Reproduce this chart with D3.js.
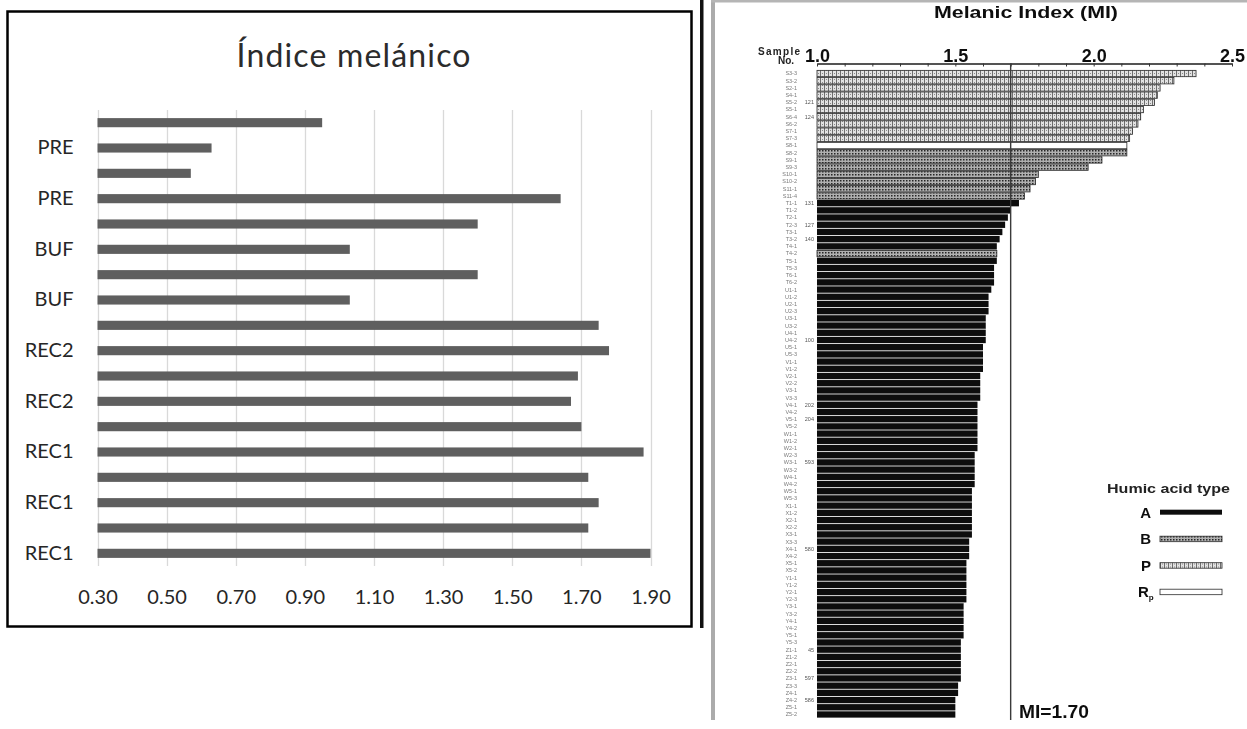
<!DOCTYPE html>
<html>
<head>
<meta charset="utf-8">
<script src="https://cdn.jsdelivr.net/npm/d3@7"></script>
<style>
html, body { margin: 0; padding: 0; background: #fff; }
svg { display: block; }
</style>
</head>
<body>
<svg id="chart" width="1247" height="729"></svg>
<script>
// --- left chart: "Índice melánico" (first category is drawn at the bottom, like Excel)
var categorias = ["REC1", "REC1", "REC1", "REC1", "REC1", "REC1", "REC2", "REC2", "REC2",
                  "REC2", "BUF", "BUF", "BUF", "BUF", "PRE", "PRE", "PRE", "PRE"];
var indice = [1.90, 1.72, 1.75, 1.72, 1.88, 1.70, 1.67, 1.69, 1.78,
              1.75, 1.03, 1.40, 1.03, 1.40, 1.64, 0.57, 0.63, 0.95];
var ticksIndice = [0.30, 0.50, 0.70, 0.90, 1.10, 1.30, 1.50, 1.70, 1.90];

// --- right chart: scanned "Melanic Index (MI)" figure, top bar first
var miTicks = [1.0, 1.5, 2.0, 2.5];
var miMinor = [1.0, 1.1, 1.2, 1.3, 1.4, 1.5, 1.6, 1.7, 1.8, 1.9, 2.0, 2.1, 2.2, 2.3, 2.4, 2.5];
var miLimit = 1.70;
var miValues = [
  2.37, 2.29, 2.24, 2.23, 2.22, 2.18, 2.17, 2.16, 2.14, 2.13,
  2.12, 2.12, 2.03, 1.98, 1.80, 1.79, 1.77, 1.75, 1.73, 1.70,
  1.69, 1.68, 1.67, 1.66, 1.65, 1.65, 1.65, 1.64, 1.64, 1.64,
  1.63, 1.62, 1.62, 1.62, 1.61, 1.61, 1.61, 1.61, 1.60, 1.60,
  1.60, 1.60, 1.59, 1.59, 1.59, 1.59, 1.58, 1.58, 1.58, 1.58,
  1.58, 1.58, 1.58, 1.57, 1.57, 1.57, 1.57, 1.57, 1.56, 1.56,
  1.56, 1.56, 1.56, 1.56, 1.56, 1.55, 1.55, 1.55, 1.54, 1.54,
  1.54, 1.54, 1.54, 1.54, 1.53, 1.53, 1.53, 1.53, 1.53, 1.52,
  1.52, 1.52, 1.52, 1.52, 1.52, 1.51, 1.51, 1.50, 1.50, 1.50
];
var miTypes = [
  "P", "P", "P", "P", "P", "P", "P", "P", "P", "P",
  "R", "B", "B", "B", "B", "B", "B", "B", "A", "A",
  "A", "A", "A", "A", "A", "B", "A", "A", "A", "A",
  "A", "A", "A", "A", "A", "A", "A", "A", "A", "A",
  "A", "A", "A", "A", "A", "A", "A", "A", "A", "A",
  "A", "A", "A", "A", "A", "A", "A", "A", "A", "A",
  "A", "A", "A", "A", "A", "A", "A", "A", "A", "A",
  "A", "A", "A", "A", "A", "A", "A", "A", "A", "A",
  "A", "A", "A", "A", "A", "A", "A", "A", "A", "A"
];
var sampleIds = ["S3-3", "S3-2", "S2-1", "S4-1", "S5-2", "S5-1", "S6-4", "S6-2", "S7-1", "S7-3",
                 "S8-1", "S8-2", "S9-1", "S9-3", "S10-1", "S10-2", "S11-1", "S11-4", "T1-1", "T1-2",
                 "T2-1", "T2-3", "T3-1", "T3-2", "T4-1", "T4-2", "T5-1", "T5-3", "T6-1", "T6-2",
                 "U1-1", "U1-2", "U2-1", "U2-3", "U3-1", "U3-2", "U4-1", "U4-2", "U5-1", "U5-3",
                 "V1-1", "V1-2", "V2-1", "V2-2", "V3-1", "V3-3", "V4-1", "V4-2", "V5-1", "V5-2",
                 "W1-1", "W1-2", "W2-1", "W2-3", "W3-1", "W3-2", "W4-1", "W4-2", "W5-1", "W5-3",
                 "X1-1", "X1-2", "X2-1", "X2-2", "X3-1", "X3-3", "X4-1", "X4-2", "X5-1", "X5-2",
                 "Y1-1", "Y1-2", "Y2-1", "Y2-3", "Y3-1", "Y3-2", "Y4-1", "Y4-2", "Y5-1", "Y5-3",
                 "Z1-1", "Z1-2", "Z2-1", "Z2-2", "Z3-1", "Z3-3", "Z4-1", "Z4-2", "Z5-1", "Z5-2"];
var notes = [{i: 4, t: "121"}, {i: 6, t: "124"}, {i: 18, t: "131"}, {i: 21, t: "127"},
             {i: 23, t: "140"}, {i: 37, t: "100"}, {i: 46, t: "202"}, {i: 48, t: "204"},
             {i: 54, t: "593"}, {i: 66, t: "580"}, {i: 80, t: "45"}, {i: 84, t: "597"},
             {i: 87, t: "586"}];
var legendTypes = ["A", "B", "P", "R"];

var svg = d3.select("#chart");
var defs = svg.append("defs");

// scan-like hatch fills
var pP = defs.append("pattern").attr("id", "patP").attr("patternUnits", "userSpaceOnUse")
  .attr("width", 4).attr("height", 3);
pP.append("rect").attr("width", 4).attr("height", 3).attr("fill", "#e2e2e2");
pP.append("rect").attr("x", 0).attr("width", 1).attr("height", 3).attr("fill", "#6e6e6e");
pP.append("rect").attr("x", 2).attr("y", 1).attr("width", 1).attr("height", 1).attr("fill", "#8a8a8a");

var pB = defs.append("pattern").attr("id", "patB").attr("patternUnits", "userSpaceOnUse")
  .attr("width", 3).attr("height", 3);
pB.append("rect").attr("width", 3).attr("height", 3).attr("fill", "#b0b0b0");
pB.append("rect").attr("width", 1.5).attr("height", 1.5).attr("fill", "#262626");

defs.append("filter").attr("id", "scan")
  .append("feGaussianBlur").attr("stdDeviation", 0.35);

var typeFill = {A: "#0b0b0b", B: "url(#patB)", P: "url(#patP)", R: "#ffffff"};

// ================= left chart =================
var left = svg.append("g").attr("class", "left");

left.append("rect")
  .attr("x", 7.5).attr("y", 11.5).attr("width", 684).attr("height", 615)
  .attr("fill", "#fff").attr("stroke", "#000").attr("stroke-width", 2.5);

left.append("text")
  .attr("x", 353.5).attr("y", 67)
  .attr("text-anchor", "middle")
  .attr("font-family", "Lato, 'Open Sans', sans-serif")
  .attr("font-size", 32)
  .attr("fill", "#2b2b2b")
  .attr("textLength", 234).attr("lengthAdjust", "spacing")
  .text("Índice melánico");

var x = d3.scaleLinear().domain([0.30, 1.90]).range([97.5, 650.5]);
var y = d3.scaleBand().domain(d3.range(categorias.length))
  .range([566, 110]).paddingInner(0.64).paddingOuter(0.32);

left.append("g").selectAll("line")
  .data(ticksIndice)
  .enter().append("line")
  .attr("x1", function(d) { return Math.round(x(d)) + 0.5; })
  .attr("x2", function(d) { return Math.round(x(d)) + 0.5; })
  .attr("y1", 110).attr("y2", 566)
  .attr("stroke", "#d9d9d9").attr("stroke-width", 1.3);

left.append("g").selectAll("rect")
  .data(indice)
  .enter().append("rect")
  .attr("x", x(0.30))
  .attr("y", function(d, i) { return y(i); })
  .attr("width", function(d) { return x(d) - x(0.30); })
  .attr("height", y.bandwidth())
  .attr("fill", "#5f5f5f");

var xAxis = left.append("g")
  .attr("transform", "translate(0,566)")
  .call(d3.axisBottom(x).tickValues(ticksIndice).tickFormat(d3.format(".2f"))
    .tickSize(0).tickPadding(24));
var yAxis = left.append("g")
  .attr("transform", "translate(97.5,0)")
  .call(d3.axisLeft(y)
    .tickValues(d3.range(0, categorias.length, 2))
    .tickFormat(function(i) { return categorias[i]; })
    .tickSize(0).tickPadding(24));
[xAxis, yAxis].forEach(function(g) {
  g.select(".domain").remove();
  g.selectAll("text")
    .attr("font-family", "Lato, 'Open Sans', sans-serif")
    .attr("font-size", 20)
    .attr("fill", "#262626");
});

// stray dark edge between the two pictures
svg.append("rect").attr("x", 700).attr("y", 0).attr("width", 3.5).attr("height", 628).attr("fill", "#111");

// ================= right chart (scanned figure) =================
var right = svg.append("g").attr("class", "right").attr("filter", "url(#scan)");

right.append("rect").attr("x", 711).attr("y", 0).attr("width", 4).attr("height", 720).attr("fill", "#ababab");
right.append("rect").attr("x", 711).attr("y", 0).attr("width", 536).attr("height", 2.5).attr("fill", "#b5b5b5");

var mi = d3.scaleLinear().domain([1.0, 2.5]).range([817, 1232]);
var yMi = d3.scaleBand().domain(d3.range(miValues.length))
  .range([70, 718]).paddingInner(0.12).paddingOuter(0.05);

right.append("text")
  .attr("x", 1026).attr("y", 18)
  .attr("text-anchor", "middle")
  .attr("font-family", "'Liberation Sans', Arial, sans-serif")
  .attr("font-weight", "bold").attr("font-size", 17)
  .attr("fill", "#111")
  .attr("textLength", 184).attr("lengthAdjust", "spacingAndGlyphs")
  .text("Melanic Index (MI)");

var sampleHead = right.append("text")
  .attr("font-family", "'Liberation Sans', Arial, sans-serif")
  .attr("font-weight", "bold").attr("font-size", 10).attr("fill", "#222")
  .attr("text-anchor", "middle");
sampleHead.append("tspan").attr("x", 779).attr("y", 55).attr("textLength", 42).text("Sample");
sampleHead.append("tspan").attr("x", 786).attr("y", 64).text("No.");

// axis: minor ticks pointing down, bold labels above
var miAxis = right.append("g")
  .attr("transform", "translate(0,63.5)")
  .call(d3.axisBottom(mi).tickValues(miMinor).tickFormat("").tickSize(3).tickSizeOuter(0));
miAxis.select(".domain").attr("stroke", "#1a1a1a").attr("stroke-width", 1.6);
miAxis.selectAll(".tick line").attr("stroke", "#333");

var miLabels = right.append("g")
  .attr("transform", "translate(0,63.5)")
  .call(d3.axisTop(mi).tickValues(miTicks).tickFormat(d3.format(".1f")).tickSize(0).tickPadding(2));
miLabels.select(".domain").remove();
miLabels.selectAll("text")
  .attr("font-family", "'Liberation Sans', Arial, sans-serif")
  .attr("font-weight", "bold").attr("font-size", 18)
  .attr("fill", "#111");

right.append("g").selectAll("rect")
  .data(miValues)
  .enter().append("rect")
  .attr("x", mi(1.0))
  .attr("y", function(d, i) { return yMi(i); })
  .attr("width", function(d) { return mi(d) - mi(1.0); })
  .attr("height", yMi.bandwidth())
  .attr("fill", function(d, i) { return typeFill[miTypes[i]]; })
  .attr("stroke", function(d, i) { return miTypes[i] === "A" ? "none" : "#2a2a2a"; })
  .attr("stroke-width", 0.8);

right.append("g").selectAll("text")
  .data(sampleIds)
  .enter().append("text")
  .attr("x", 797)
  .attr("y", function(d, i) { return yMi(i) + yMi.bandwidth() / 2; })
  .attr("dy", "0.35em")
  .attr("text-anchor", "end")
  .attr("font-family", "'Liberation Sans', Arial, sans-serif")
  .attr("font-size", 5.5).attr("fill", "#7a7a7a")
  .text(function(d) { return d; });

right.append("g").selectAll("text")
  .data(notes)
  .enter().append("text")
  .attr("x", 814)
  .attr("y", function(d) { return yMi(d.i) + yMi.bandwidth() / 2; })
  .attr("dy", "0.35em")
  .attr("text-anchor", "end")
  .attr("font-family", "'Liberation Sans', Arial, sans-serif")
  .attr("font-size", 5.5).attr("fill", "#555")
  .text(function(d) { return d.t; });

right.append("line")
  .attr("x1", mi(miLimit)).attr("x2", mi(miLimit))
  .attr("y1", 63.5).attr("y2", 720)
  .attr("stroke", "#3a3a3a").attr("stroke-width", 1.4);

right.append("text")
  .attr("x", 1019).attr("y", 718)
  .attr("font-family", "'Liberation Sans', Arial, sans-serif")
  .attr("font-weight", "bold").attr("font-size", 19)
  .attr("fill", "#111")
  .attr("textLength", 70).attr("lengthAdjust", "spacingAndGlyphs")
  .text("MI=1.70");

// legend
var legend = right.append("g");
legend.append("text")
  .attr("x", 1107).attr("y", 493)
  .attr("font-family", "'Liberation Sans', Arial, sans-serif")
  .attr("font-weight", "bold").attr("font-size", 12)
  .attr("fill", "#222")
  .attr("textLength", 123).attr("lengthAdjust", "spacingAndGlyphs")
  .text("Humic acid type");

var legendY = d3.scalePoint().domain(legendTypes).range([512.5, 592]);
var item = legend.selectAll("g.item")
  .data(legendTypes)
  .enter().append("g").attr("class", "item")
  .attr("transform", function(d) { return "translate(0," + legendY(d) + ")"; });
item.append("rect")
  .attr("x", 1160).attr("y", -2.8)
  .attr("width", 62).attr("height", function(d) { return d === "A" ? 5 : 5.5; })
  .attr("fill", function(d) { return typeFill[d]; })
  .attr("stroke", function(d) { return d === "A" ? "none" : "#2a2a2a"; })
  .attr("stroke-width", 0.8);
item.append("text")
  .attr("x", 1151).attr("y", 0).attr("dy", "0.36em")
  .attr("text-anchor", "end")
  .attr("font-family", "'Liberation Sans', Arial, sans-serif")
  .attr("font-weight", "bold").attr("font-size", 15)
  .attr("fill", "#111")
  .text(function(d) { return d; });
item.filter(function(d) { return d === "R"; }).select("text")
  .attr("text-anchor", "start").attr("x", 1138)
  .append("tspan").attr("font-size", 8).attr("dy", 3).text("p");
</script>
</body>
</html>
